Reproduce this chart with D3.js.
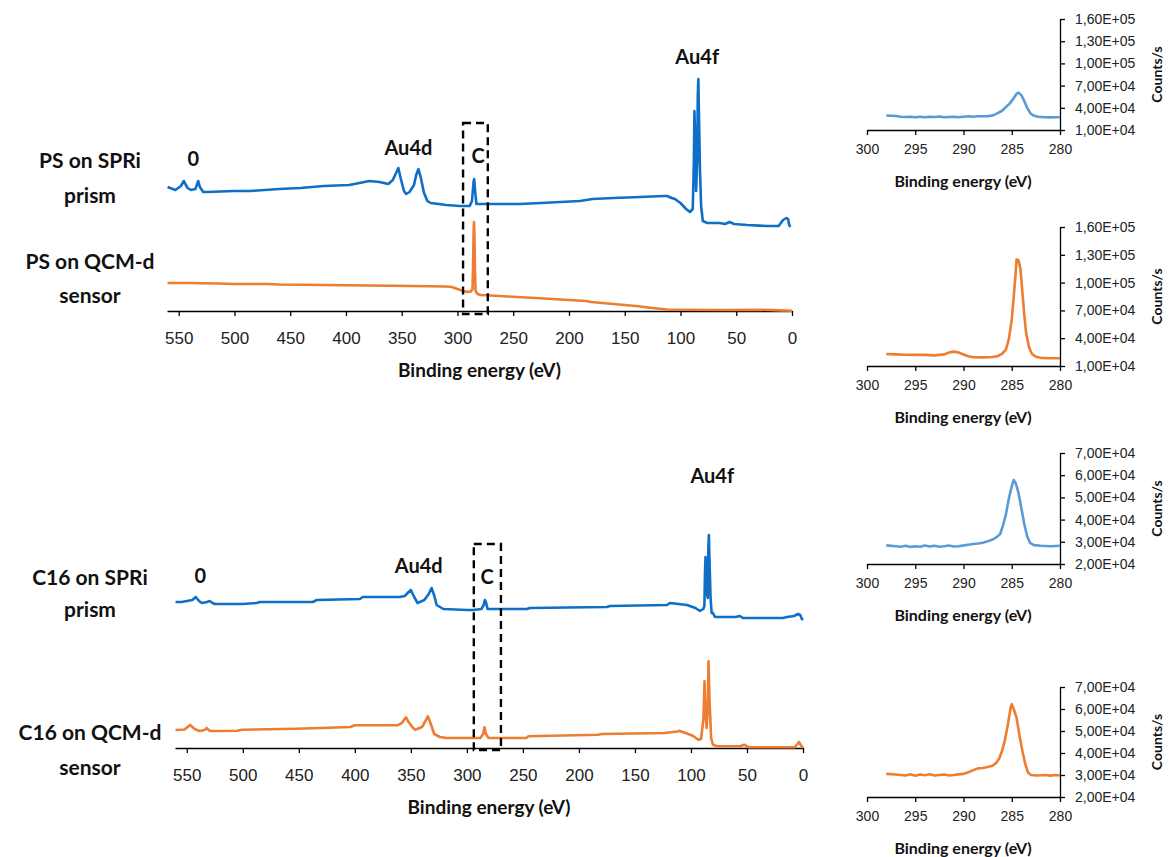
<!DOCTYPE html>
<html>
<head>
<meta charset="utf-8">
<script src="https://cdn.jsdelivr.net/npm/d3@7"></script>
<style>
  body { margin: 0; background: #fff; }
  svg { display: block; font-family: Lato, "Open Sans", sans-serif; }
  .axis path, .axis line { stroke: #000; stroke-width: 1.3px; }
  .axis text { fill: #222; }
</style>
</head>
<body>
<svg id="chart" width="1171" height="857"></svg>
<script>
  'use strict';

  // survey spectra: [binding energy (eV), intensity (a.u., offset stacked)]
  var psPrismSurvey = [[560,124],[553,121],[548,125],[545.5,130],[542,123],[539,121],[535,122],[532.5,130],[531,124],[528,119],[525,119],[500,120],[486,120],[460,122],[441,123],[420,125],[397,126],[379,130],[370,129],[362,127],[358,131],[355.5,137],[353,143],[351,133],[348,120],[346,117],[343,119],[339,126],[337,136],[335,142],[333,134],[330,118],[327,110],[324,108],[310,106],[298,105],[289,105],[287,110],[285.5,130],[285,132],[284,118],[283,107],[270,107],[244,107],[225,108],[208,109],[190,110],[179,112],[160,113],[136,114],[115,115],[112,115],[108,113],[105,112],[100,108],[95,102],[91.5,99],[89,102],[88,150],[87.5,200],[87,180],[86,120],[85,150],[84.5,215],[84,232],[83.5,200],[82.5,140],[81.5,105],[80,90],[76,88],[65,88],[60,87],[56,89],[52,87],[40,86],[22,85],[12,85],[8,91],[5,93],[3.5,92],[2.5,86],[1.5,84]];
  var psQcmSurvey = [[560,28],[540,28],[515,27.5],[500,27],[470,27],[460,26.5],[420,26],[380,25.5],[340,25],[310,24.5],[305,24],[300,22],[295,20],[291,19],[288,19.5],[286.5,22],[286,45],[285.5,80],[285.2,89],[284.8,75],[284.3,40],[283.8,20],[282,17],[279,16],[270,15.5],[255,14.5],[230,13],[200,11],[185,10],[180,9],[160,7],[140,5],[125,3],[112,1.5],[100,1.2],[60,1],[27,1.2],[10,0.6],[0,0.2]];
  var c16PrismSurvey = [[560,146],[554.5,146],[545,148],[542,151],[539,147],[536.6,145],[532,146],[529.5,147],[527,145],[525,144],[500,144],[487.5,145],[485,146],[437.5,146],[434,148],[395.5,149],[393,151],[360,151],[355.4,152],[352,156],[350,158],[347,151],[344,145],[338,148],[334,154],[331.5,160],[329,152],[327,143],[321,139],[300,138],[294.6,138],[287,139],[285,143],[284,148],[283,146],[281.5,139],[279.5,139],[246.4,139],[243.8,140],[175,141],[172.3,142],[121.4,143],[118.8,145],[103.6,143],[96,140],[92,137],[89,139],[88,142],[87.5,175],[87,191],[86.5,160],[85,150],[84.5,200],[84,213],[83.5,190],[82.5,150],[81.5,135],[80.4,135],[78.6,131],[67.9,131],[60,131],[56.3,132],[53.6,130],[17.9,130],[14.3,131],[8,132],[4.5,134],[2.5,133],[1,129],[0,128]];
  var c16QcmSurvey = [[560,18],[552,18.5],[547,23],[543,19],[538.7,17],[534,18],[532.4,20],[530,17.5],[527.5,17],[505,17.3],[501,18.3],[453,19.3],[430,20],[404,21],[400,22.7],[362,22.7],[358,25],[355.5,29],[354.3,30.7],[352,26],[348,20],[346,18.3],[340,21],[336.5,28],[334.8,31.7],[332.5,25],[329.2,14],[324,11],[318,10],[300,10],[288,10],[285.5,14],[284.3,20.7],[283,14],[280.6,10],[247,10],[245,11.7],[183,13.3],[179.6,14],[123.5,15],[112,16.5],[110.4,17.3],[104.8,15],[98,12],[93.5,8.3],[91,9],[88.8,30],[87.9,66.7],[87,35],[86,20],[85,40],[84.3,86.7],[83.5,50],[82,10],[80.4,3.3],[76.7,1.7],[56,1.7],[52.4,3.3],[48.6,0.7],[7.5,0.7],[5,4],[3.7,6],[2,3],[0,0]];

  // C1s high resolution spectra: [binding energy (eV), counts/s]
  var psPrismC1s = [[298,2.95e4],[297,2.9e4],[296.5,2.8e4],[296,2.75e4],[295.5,2.8e4],[295,2.72e4],[294.5,2.8e4],[294,2.72e4],[293.5,2.78e4],[293,2.75e4],[292.5,2.82e4],[292,2.72e4],[291.5,2.75e4],[291,2.78e4],[290.5,2.72e4],[290,2.8e4],[289.5,2.85e4],[289,2.78e4],[288.5,2.85e4],[288,2.85e4],[287.5,2.88e4],[287,2.95e4],[286.5,3.25e4],[286,3.6e4],[285.6,4.1e4],[285.2,4.6e4],[284.8,5.3e4],[284.5,5.9e4],[284.3,6.05e4],[284,5.7e4],[283.7,4.9e4],[283.4,4.0e4],[283.1,3.3e4],[282.8,3.0e4],[282.3,2.8e4],[281.5,2.72e4],[281,2.7e4],[280.5,2.72e4],[280,2.72e4]];
  var psQcmC1s = [[298,2.3e4],[297,2.25e4],[296,2.22e4],[295,2.2e4],[294,2.2e4],[293,2.15e4],[292,2.25e4],[291.5,2.45e4],[291,2.55e4],[290.5,2.45e4],[290,2.25e4],[289.5,2.05e4],[289,1.95e4],[288,1.93e4],[287,1.97e4],[286.5,2.05e4],[286,2.3e4],[285.6,2.8e4],[285.3,3.9e4],[285,6.0e4],[284.8,8.4e4],[284.6,1.1e5],[284.5,1.25e5],[284.3,1.24e5],[284.1,1.15e5],[283.9,9.0e4],[283.7,6.5e4],[283.5,4.5e4],[283.2,3.0e4],[282.9,2.3e4],[282.5,2.0e4],[282,1.88e4],[281,1.83e4],[280,1.83e4]];
  var c16PrismC1s = [[298,2.84e4],[297,2.8e4],[296.5,2.78e4],[296,2.82e4],[295.5,2.77e4],[295,2.8e4],[294.5,2.78e4],[294,2.83e4],[293.5,2.79e4],[293,2.82e4],[292.5,2.78e4],[292,2.8e4],[291.5,2.83e4],[291,2.79e4],[290.5,2.8e4],[290,2.84e4],[289.5,2.87e4],[289,2.9e4],[288.5,2.92e4],[288,2.96e4],[287.5,3.02e4],[287,3.1e4],[286.6,3.2e4],[286.2,3.35e4],[285.9,3.75e4],[285.6,4.25e4],[285.3,4.95e4],[285.0,5.5e4],[284.8,5.78e4],[284.6,5.65e4],[284.3,5.2e4],[284,4.5e4],[283.7,3.8e4],[283.4,3.25e4],[283.1,2.95e4],[282.7,2.85e4],[282,2.82e4],[281,2.8e4],[280,2.82e4]];
  var c16QcmC1s = [[298,3.05e4],[297,3.02e4],[296.5,3.0e4],[296,2.98e4],[295.5,3.03e4],[295,2.97e4],[294.5,3.02e4],[294,2.99e4],[293.5,3.03e4],[293,2.98e4],[292.5,3.0e4],[292,3.02e4],[291.5,2.98e4],[291,3.0e4],[290.5,3.03e4],[290,3.05e4],[289.5,3.12e4],[289,3.22e4],[288.5,3.3e4],[288,3.32e4],[287.5,3.36e4],[287,3.42e4],[286.6,3.55e4],[286.3,3.75e4],[286,4.1e4],[285.7,4.6e4],[285.4,5.3e4],[285.1,6.1e4],[285,6.22e4],[284.8,6.0e4],[284.5,5.6e4],[284.2,4.8e4],[283.9,4.1e4],[283.6,3.5e4],[283.3,3.1e4],[283,3.0e4],[282.4,2.98e4],[281.5,3.0e4],[281,2.97e4],[280.5,3.0e4],[280,2.98e4]];

  var surveyTicks = [550, 500, 450, 400, 350, 300, 250, 200, 150, 100, 50, 0];
  var detailTicks = [300, 295, 290, 285, 280];
  var psCountTicks = [1e4, 4e4, 7e4, 1e5, 1.3e5, 1.6e5];
  var c16CountTicks = [2e4, 3e4, 4e4, 5e4, 6e4, 7e4];

  // peak labels: [text, energy (eV), intensity (a.u.)]
  var psPeaks = [['0', 537, 145], ['Au4d', 344, 156], ['C', 281.5, 148], ['Au4f', 85, 247]];
  var c16Peaks = [['0', 538, 165], ['Au4d', 343, 175], ['C', 282, 164], ['Au4f', 81, 265]];
  // dashed C1s window: [from eV, to eV, low a.u., high a.u.]
  var psWindow = [295, 272.8, -3, 188];
  var c16Window = [293.8, 269.6, -2, 204];

  var psLabels = [['PS on SPRi', 'prism'], ['PS on QCM-d', 'sensor']];
  var c16Labels = [['C16 on SPRi', 'prism'], ['C16 on QCM-d', 'sensor']];

  var BLUE = '#0f6fc6', ORANGE = '#ed7d31', LIGHT_BLUE = '#5b9bd5';

  var svg = d3.select('#chart');
  svg.append('rect').attr('width', 1171).attr('height', 857).attr('fill', '#fff');

  var sciFormat = function(v) {
    var parts = v.toExponential(2).split('e'),
      exp = +parts[1];
    return parts[0].replace('.', ',') + 'E' + (exp < 0 ? '-' : '+') + (Math.abs(exp) < 10 ? '0' : '') + Math.abs(exp);
  };

  var lineFor = function(x, y) {
    return d3.line().x(function(d) { return x(d[0]); }).y(function(d) { return y(d[1]); });
  };

  var drawSurvey = function(cfg) {
    var g = svg.append('g'),
      x = d3.scaleLinear().domain([560.5, 0]).range(cfg.xRange),
      y = d3.scaleLinear().domain([0, 300]).range([cfg.axisY, cfg.axisY - 300]),
      line = lineFor(x, y);

    var axis = g.append('g')
      .attr('class', 'axis')
      .attr('transform', 'translate(0,' + cfg.axisY + ')')
      .call(d3.axisBottom(x).tickValues(surveyTicks).tickSize(5).tickSizeOuter(0).tickPadding(16).tickFormat(d3.format('d')));
    axis.selectAll('text').style('font-size', '17px');

    g.append('text')
      .attr('x', (cfg.xRange[0] + cfg.xRange[1]) / 2)
      .attr('y', cfg.axisY + 66)
      .attr('text-anchor', 'middle')
      .style('font-size', '19px')
      .style('font-weight', 'bold')
      .style('fill', '#111')
      .text('Binding energy (eV)');

    g.append('path').datum(cfg.lower)
      .attr('d', line).attr('fill', 'none').attr('stroke', ORANGE).attr('stroke-width', 2.6).attr('stroke-linejoin', 'round');
    g.append('path').datum(cfg.upper)
      .attr('d', line).attr('fill', 'none').attr('stroke', BLUE).attr('stroke-width', 2.6).attr('stroke-linejoin', 'round');

    var w = cfg.window;
    g.append('rect')
      .attr('x', x(w[0]))
      .attr('y', y(w[3]))
      .attr('width', x(w[1]) - x(w[0]))
      .attr('height', y(w[2]) - y(w[3]))
      .attr('fill', 'none')
      .attr('stroke', '#000')
      .attr('stroke-width', 2.4)
      .attr('stroke-dasharray', '8,5');

    g.selectAll('.peak').data(cfg.peaks).enter().append('text')
      .attr('class', 'peak')
      .attr('x', function(d) { return x(d[1]); })
      .attr('y', function(d) { return y(d[2]); })
      .attr('text-anchor', 'middle')
      .style('font-size', '20px')
      .style('font-weight', 'bold')
      .style('fill', '#111')
      .text(function(d) { return d[0]; });

    cfg.labels.forEach(function(lines, i) {
      var t = g.append('text')
        .attr('x', 90)
        .attr('y', cfg.labelY[i])
        .attr('text-anchor', 'middle')
        .style('font-size', '21px')
        .style('font-weight', 'bold')
        .style('fill', '#111');
      lines.forEach(function(s, j) {
        t.append('tspan').attr('x', 90).attr('dy', j === 0 ? 0 : cfg.lineGap[i]).text(s);
      });
    });
  };

  var drawDetail = function(cfg) {
    var g = svg.append('g'),
      x = d3.scaleLinear().domain([300, 280]).range([867, 1060]),
      y = d3.scaleLinear().domain(cfg.yDomain).range([cfg.bottom, cfg.top]);

    var xAxis = g.append('g')
      .attr('class', 'axis')
      .attr('transform', 'translate(0,' + cfg.bottom + ')')
      .call(d3.axisBottom(x).tickValues(detailTicks).tickSize(5).tickSizeOuter(0).tickPadding(9).tickFormat(d3.format('d')));
    xAxis.selectAll('text').style('font-size', '14px');

    var yAxis = g.append('g')
      .attr('class', 'axis')
      .attr('transform', 'translate(1060,0)')
      .call(d3.axisRight(y).tickValues(cfg.ticks).tickSize(5).tickSizeOuter(0).tickPadding(10).tickFormat(sciFormat));
    yAxis.selectAll('text').style('font-size', '14px');

    g.append('text')
      .attr('transform', 'translate(1162,' + (cfg.top + cfg.bottom) / 2 + ') rotate(-90)')
      .attr('text-anchor', 'middle')
      .style('font-size', '14px')
      .style('font-weight', 'bold')
      .style('fill', '#111')
      .text('Counts/s');

    g.append('text')
      .attr('x', 963)
      .attr('y', cfg.bottom + 57)
      .attr('text-anchor', 'middle')
      .style('font-size', '16px')
      .style('font-weight', 'bold')
      .style('fill', '#111')
      .text('Binding energy (eV)');

    g.append('path').datum(cfg.data)
      .attr('d', lineFor(x, y))
      .attr('fill', 'none')
      .attr('stroke', cfg.color)
      .attr('stroke-width', 2.6)
      .attr('stroke-linejoin', 'round');
  };

  drawSurvey({
    xRange: [167, 792], axisY: 311,
    upper: psPrismSurvey, lower: psQcmSurvey,
    peaks: psPeaks, window: psWindow,
    labels: psLabels, labelY: [168, 269], lineGap: [35, 34]
  });

  drawSurvey({
    xRange: [175, 803], axisY: 748,
    upper: c16PrismSurvey, lower: c16QcmSurvey,
    peaks: c16Peaks, window: c16Window,
    labels: c16Labels, labelY: [585, 740], lineGap: [32, 35]
  });

  drawDetail({ data: psPrismC1s, color: LIGHT_BLUE, yDomain: [1e4, 1.6e5], ticks: psCountTicks, top: 19, bottom: 130 });
  drawDetail({ data: psQcmC1s, color: ORANGE, yDomain: [1e4, 1.6e5], ticks: psCountTicks, top: 227, bottom: 366 });
  drawDetail({ data: c16PrismC1s, color: LIGHT_BLUE, yDomain: [2e4, 7e4], ticks: c16CountTicks, top: 453, bottom: 564 });
  drawDetail({ data: c16QcmC1s, color: ORANGE, yDomain: [2e4, 7e4], ticks: c16CountTicks, top: 687, bottom: 797 });
</script>
</body>
</html>
